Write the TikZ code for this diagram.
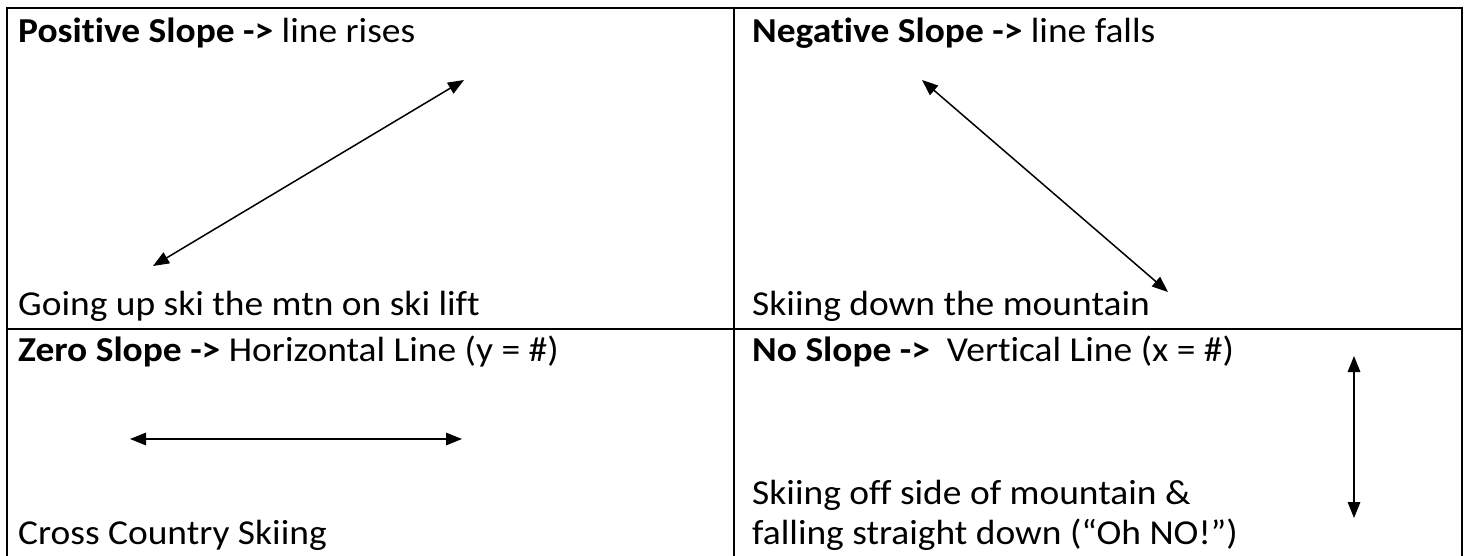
\documentclass[tikz,border=0pt]{standalone}
\usepackage{fontspec}
\usepackage{graphicx}
\setmainfont{Carlito}[Ligatures=NoCommon]
\usetikzlibrary{arrows.meta}
\newcommand{\wide}[1]{\scalebox{1.07}[1]{#1}}
\tikzset{
  grid/.style={line width=2.6pt, black},
  txt/.style={anchor=base west, inner sep=0pt, font=\fontsize{35}{42}\selectfont},
  dbl/.style={line width=1.5pt, {Triangle[length=16pt,width=12.5pt]}-{Triangle[length=16pt,width=12.5pt]}}
}
\begin{document}
\begin{tikzpicture}[x=1pt,y=-1pt]
\useasboundingbox (0,0) rectangle (1467,556);
% table grid
\draw[grid] (7,8) -- (1462,8);
\draw[grid] (7,329) -- (1462,329);
\draw[grid] (7,6.7) -- (7,560);
\draw[grid] (734,6.7) -- (734,560);
\draw[grid] (1462,6.7) -- (1462,560);
% texts
\node[txt] (t1) at (18,43) {\wide{\textbf{Positive Slope -{}>} line rises}};
\node[txt] (t2) at (18,315) {\wide{Going up ski the mtn on ski lift}};
\node[txt] (t3) at (752,43) {\wide{\textbf{Negative Slope -{}>} line falls}};
\node[txt] (t4) at (752,315) {\wide{Skiing down the mountain}};
\node[txt] (t5) at (18,361) {\wide{\textbf{Zero Slope -{}>} Horizontal Line (y = \#)}};
\node[txt] (t6) at (18,544) {\wide{Cross Country Skiing}};
\node[txt] (t7) at (752,361) {\wide{\textbf{No Slope -{}>}\ \ Vertical Line (x = \#)}};
\node[txt] (t8) at (752,504) {\wide{Skiing off side of mountain \&}};
\node[txt] (t9) at (752,544) {\wide{falling straight down (“Oh NO!”)}};
% arrows
\coordinate (p1) at (153,266);
\coordinate (p2) at (464,80);
\draw[dbl] (p1) -- (p2);
\coordinate (n1) at (922,80);
\coordinate (n2) at (1168,292);
\draw[dbl] (n1) -- (n2);
\coordinate (h1) at (130,439);
\coordinate (h2) at (462,439);
\draw[dbl] (h1) -- (h2);
\coordinate (v1) at (1354,356);
\coordinate (v2) at (1354,518);
\draw[dbl] (v1) -- (v2);
\end{tikzpicture}
\end{document}
